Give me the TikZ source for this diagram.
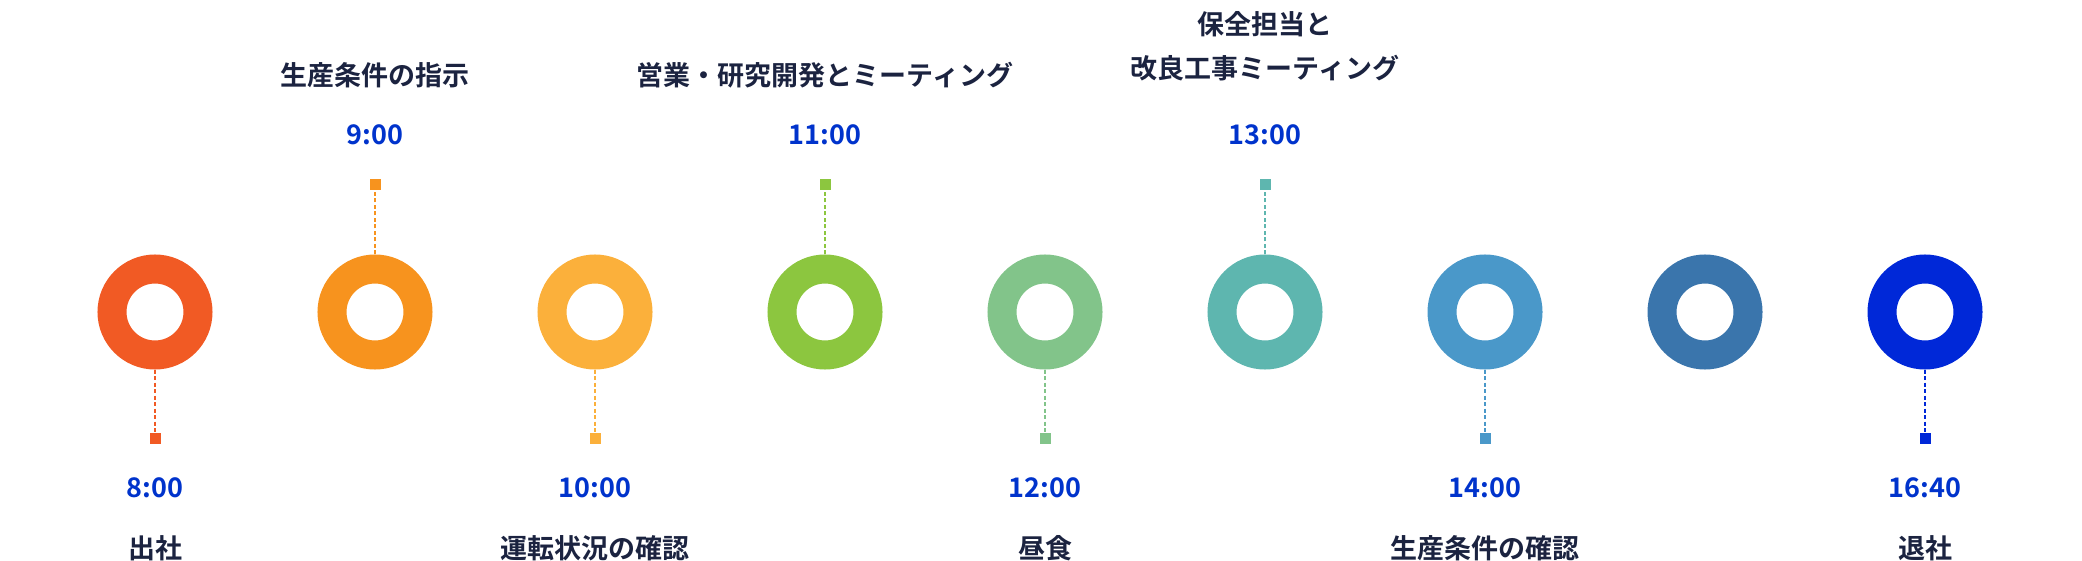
\documentclass[tikz,border=0pt]{standalone}
\usepackage{fontspec}
\setmainfont{Noto Sans CJK JP}[BoldFont={* Bold}]
\definecolor{c1}{HTML}{F15A24}
\definecolor{c2}{HTML}{F7931E}
\definecolor{c3}{HTML}{FBB03B}
\definecolor{c4}{HTML}{8CC63F}
\definecolor{c5}{HTML}{82C48A}
\definecolor{c6}{HTML}{5EB6AF}
\definecolor{c7}{HTML}{4A98C9}
\definecolor{c8}{HTML}{3A75AC}
\definecolor{c9}{HTML}{0028D8}
\definecolor{tblue}{HTML}{0033CC}
\definecolor{navy}{HTML}{1B2340}
\begin{document}
\begin{tikzpicture}[x=1pt,y=-1pt,
  ring/.style={circle,minimum size=86pt,line width=29pt,inner sep=0pt},
  sq/.style={rectangle,minimum size=11pt,inner sep=0pt},
  conn/.style={line width=1.8pt,dash pattern=on 4pt off 2.5pt},
  tlabel/.style={text=tblue,font=\fontsize{27}{30}\selectfont\bfseries},
  jlabel/.style={text=navy,font=\fontsize{27}{44}\selectfont\bfseries,align=center}]
\useasboundingbox (0,0) rectangle (2082,561);
% rings
\foreach \i/\x in {1/155,2/375,3/595,4/825,5/1045,6/1265,7/1485,8/1705,9/1925}{
  \node[ring,draw=c\i] (r\i) at (\x,312) {};
}
% below items
\foreach \i/\x/\t/\j in {1/155/8:00/出社,3/595/10:00/運転状況の確認,5/1045/12:00/昼食,7/1485/14:00/生産条件の確認,9/1925/16:40/退社}{
  \node[sq,fill=c\i] (s\i) at (\x,438) {};
  \draw[conn,draw=c\i] (r\i.south) -- (s\i.north);
  \node[tlabel] (t\i) at (\x,488) {\t};
  \node[jlabel] (j\i) at (\x,548) {\j};
}
% above items
\foreach \i/\x/\t/\j in {2/375/9:00/生産条件の指示,4/825/11:00/営業・研究開発とミーティング}{
  \node[sq,fill=c\i] (s\i) at (\x,185) {};
  \draw[conn,draw=c\i] (r\i.north) -- (s\i.south);
  \node[tlabel] (t\i) at (\x,135) {\t};
  \node[jlabel] (j\i) at (\x,75) {\j};
}
\node[sq,fill=c6] (s6) at (1265,185) {};
\draw[conn,draw=c6] (r6.north) -- (s6.south);
\node[tlabel] (t6) at (1265,135) {13:00};
\node[jlabel] (j6) at (1265,46) {保全担当と\\改良工事ミーティング};
\end{tikzpicture}
\end{document}
